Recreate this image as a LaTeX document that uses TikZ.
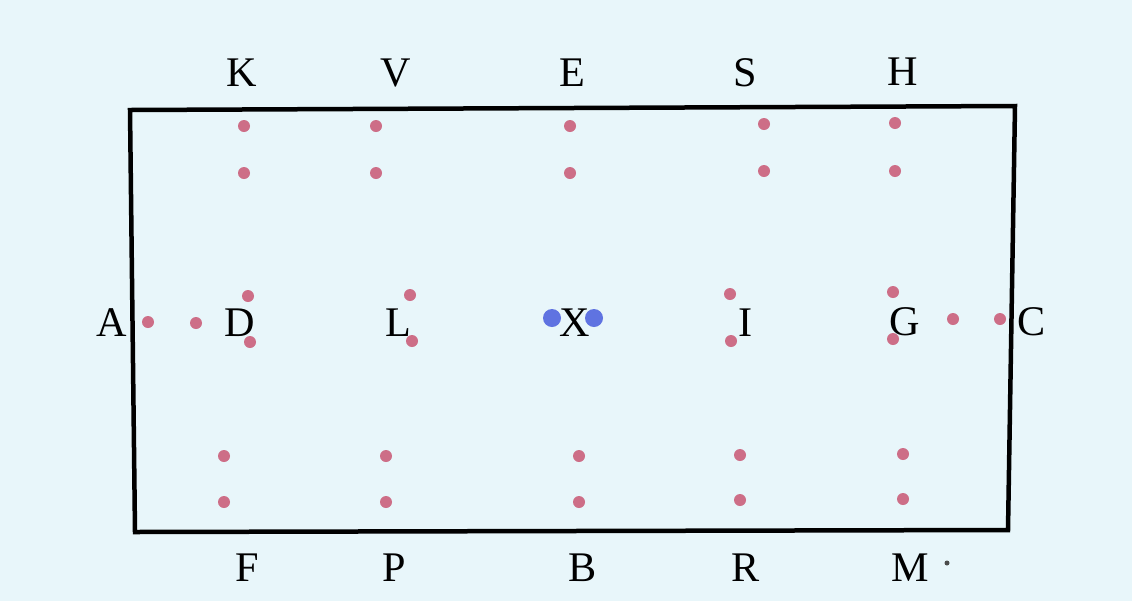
\documentclass[tikz,border=0pt]{standalone}
\usepackage{fontspec}
\setmainfont{Liberation Serif}
\usepackage{tikz}
\usetikzlibrary{positioning}
\usepackage{xcolor}
\definecolor{arenabg}{RGB}{232,246,250}
\definecolor{markerpink}{RGB}{205,110,135}
\definecolor{markerblue}{RGB}{95,115,225}
\tikzset{
  letter/.style={inner sep=0pt,font=\fontsize{30}{32}\selectfont,text=black},
  cone/.style={fill=markerpink},
  centre/.style={fill=markerblue}
}

\begin{document}
\begin{tikzpicture}[x=0.025cm,y=-0.025cm]
  \fill[arenabg] (0,0) rectangle (1132,601);
  \useasboundingbox (0,0) rectangle (1132,601);
  % arena outline
  \draw[line width=3.2pt,line join=miter] (130,110) -- (1015,106) -- (1008,530) -- (135,532) -- cycle;
  % letters
  \node[letter] (K) at (242,73) {K};
  \node[letter] (V) at (396,73) {V};
  \node[letter] (E) at (572,73) {E};
  \node[letter] (S) at (745,73) {S};
  \node[letter] (H) at (903,72) {H};
  \node[letter] (A) at (112,323) {A};
  \node[letter] (D) at (240,323) {D};
  \node[letter] (L) at (398,323) {L};
  \node[letter] (X) at (575,323) {X};
  \node[letter] (I) at (746,323) {I};
  \node[letter] (G) at (905,322) {G};
  \node[letter] (C) at (1032,322) {C};
  \node[letter] (F) at (247,568) {F};
  \node[letter] (P) at (394,568) {P};
  \node[letter] (B) at (583,568) {B};
  \node[letter] (R) at (746,568) {R};
  \node[letter] (M) at (910,568) {M};
  % markers, top rows
  \fill[cone] (244,126) circle (6);  \fill[cone] (244,173) circle (6);
  \fill[cone] (376,126) circle (6);  \fill[cone] (376,173) circle (6);
  \fill[cone] (570,126) circle (6);  \fill[cone] (570,173) circle (6);
  \fill[cone] (764,124) circle (6);  \fill[cone] (764,171) circle (6);
  \fill[cone] (895,123) circle (6);  \fill[cone] (895,171) circle (6);
  % markers, centre line
  \fill[cone] (148,322) circle (6);  \fill[cone] (196,323) circle (6);
  \fill[cone] (248,296) circle (6);  \fill[cone] (250,342) circle (6);
  \fill[cone] (410,295) circle (6);  \fill[cone] (412,341) circle (6);
  \fill[cone] (730,294) circle (6);  \fill[cone] (731,341) circle (6);
  \fill[cone] (893,292) circle (6);  \fill[cone] (893,339) circle (6);
  \fill[cone] (953,319) circle (6);  \fill[cone] (1000,319) circle (6);
  \fill[centre] (552,318) circle (9); \fill[centre] (594,318) circle (9);
  % markers, bottom rows
  \fill[cone] (224,456) circle (6);  \fill[cone] (224,502) circle (6);
  \fill[cone] (386,456) circle (6);  \fill[cone] (386,502) circle (6);
  \fill[cone] (579,456) circle (6);  \fill[cone] (579,502) circle (6);
  \fill[cone] (740,455) circle (6);  \fill[cone] (740,500) circle (6);
  \fill[cone] (903,454) circle (6);  \fill[cone] (903,499) circle (6);
  \fill[black!70] (947,563) circle (2.5);
\end{tikzpicture}
\end{document}
